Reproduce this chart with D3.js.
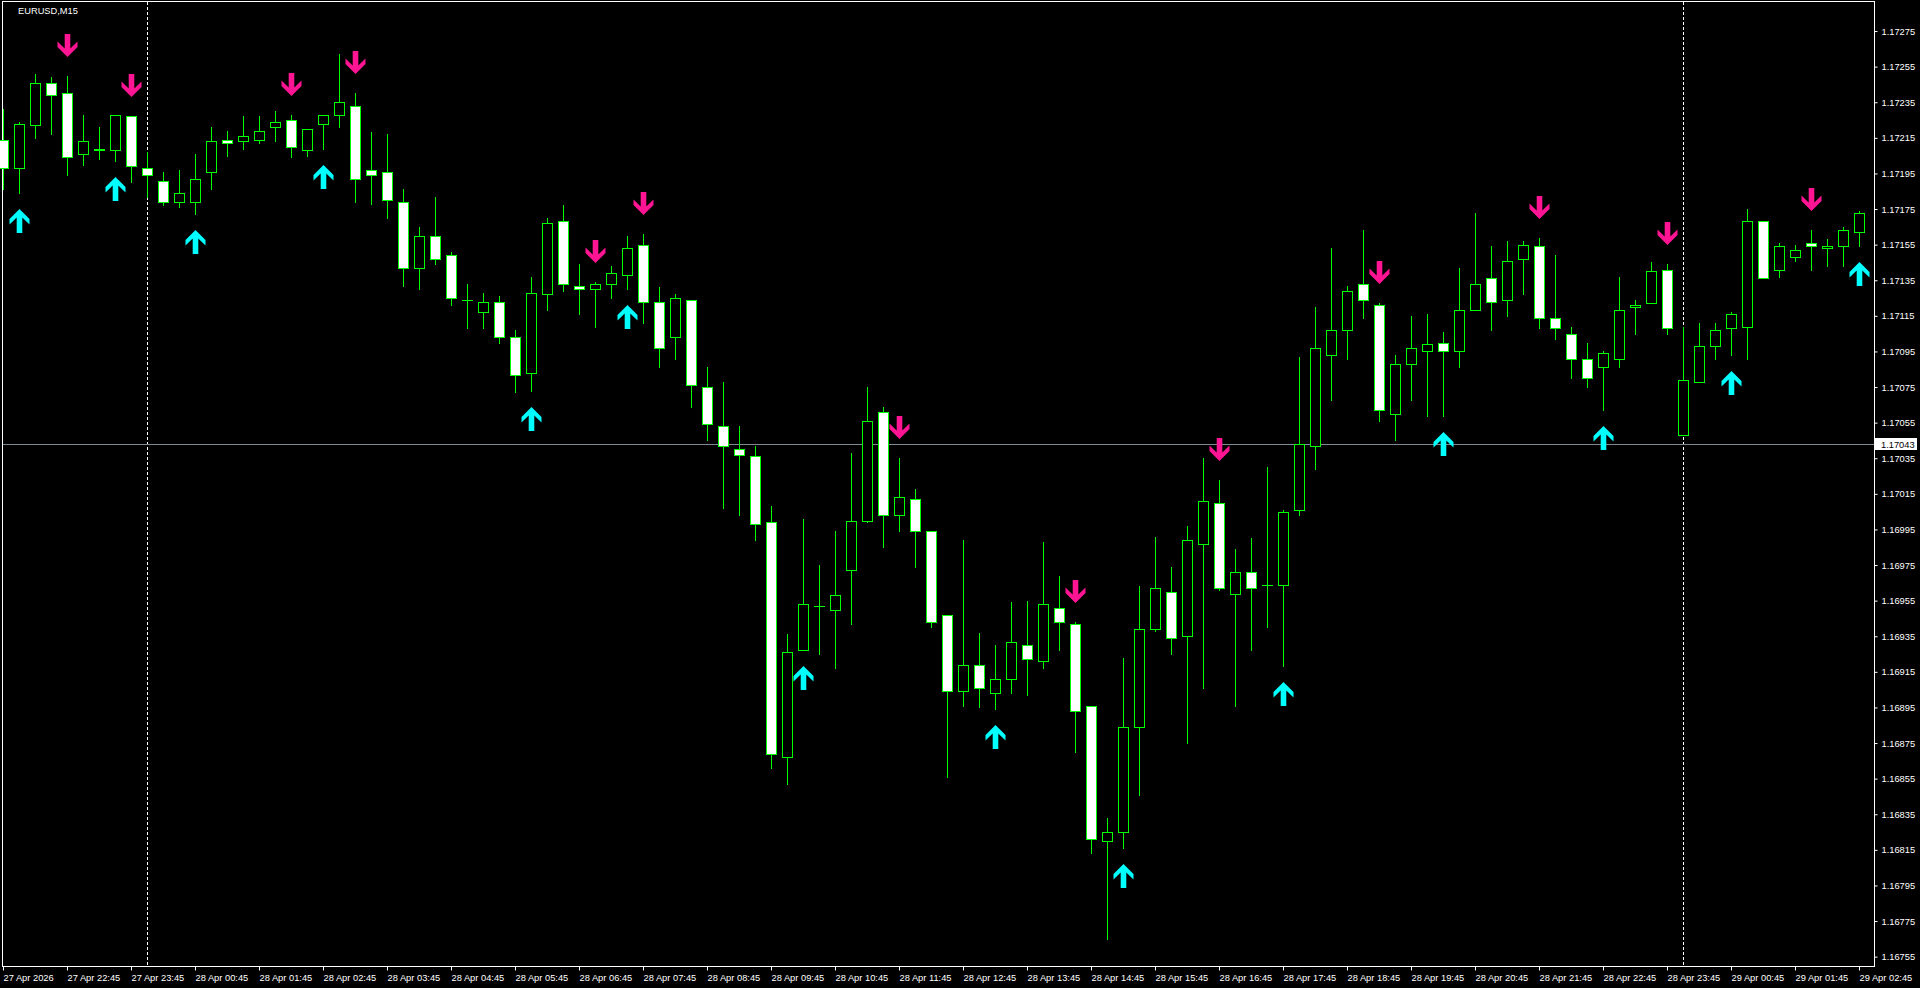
<!DOCTYPE html>
<html>
<head>
<meta charset="utf-8">
<script src="https://cdn.jsdelivr.net/npm/d3@7"></script>
<style>
  html, body { margin: 0; padding: 0; background: #000; overflow: hidden; }
  svg { display: block; }
  text { font-family: "Liberation Sans", Arial, sans-serif; font-size: 9.3px; fill: #fff; }
</style>
</head>
<body>
<svg id="chart" width="1920" height="988"></svg>
<script>
// ---------- DATA ----------
const symbolTitle = "EURUSD,M15";

const opens = [
  1.17214,1.17198,1.17222,1.17246,1.17240,1.17206,1.17209,1.17208,1.17227,1.17198,
  1.17191,1.17179,1.17179,1.17196,1.17214,1.17213,1.17214,1.17221,1.17225,1.17208,
  1.17223,1.17228,1.17233,1.17197,1.17196,1.17179,1.17142,1.17160,1.17149,1.17124,
  1.17117,1.17123,1.17103,1.17083,1.17127,1.17168,1.17132,1.17130,1.17133,1.17138,
  1.17155,1.17123,1.17103,1.17124,1.17075,1.17053,1.17040,1.17036,1.16999,1.16867,
  1.16927,1.16952,1.16950,1.16972,1.17000,1.17061,1.17003,1.17012,1.16994,1.16947,
  1.16904,1.16919,1.16903,1.16911,1.16930,1.16921,1.16951,1.16942,1.16896,1.16820,
  1.16825,1.16884,1.16939,1.16960,1.16935,1.16987,1.17010,1.16959,1.16971,1.16964,
  1.16964,1.17006,1.17042,1.17093,1.17107,1.17133,1.17121,1.17060,1.17088,1.17095,
  1.17100,1.17095,1.17118,1.17136,1.17124,1.17147,1.17154,1.17114,1.17105,1.17091,
  1.17086,1.17091,1.17120,1.17122,1.17141,1.17048,1.17078,1.17098,1.17108,1.17109,
  1.17168,1.17141,1.17148,1.17156,1.17153,1.17154,1.17162
];
const highs = [
  1.17231,1.17224,1.17251,1.17249,1.17250,1.17228,1.17221,1.17228,1.17227,1.17207,
  1.17196,1.17197,1.17206,1.17221,1.17219,1.17227,1.17227,1.17230,1.17228,1.17220,
  1.17228,1.17262,1.17240,1.17218,1.17217,1.17186,1.17165,1.17182,1.17151,1.17133,
  1.17128,1.17126,1.17107,1.17137,1.17170,1.17177,1.17144,1.17134,1.17143,1.17160,
  1.17161,1.17131,1.17127,1.17124,1.17086,1.17078,1.17053,1.17042,1.17008,1.16936,
  1.17001,1.16975,1.16994,1.17038,1.17075,1.17064,1.17035,1.17018,1.16994,1.16947,
  1.16989,1.16937,1.16930,1.16954,1.16955,1.16988,1.16969,1.16943,1.16896,1.16833,
  1.16923,1.16963,1.16991,1.16974,1.16997,1.17035,1.17023,1.16984,1.16990,1.17030,
  1.17006,1.17092,1.17120,1.17153,1.17132,1.17163,1.17122,1.17093,1.17115,1.17116,
  1.17106,1.17142,1.17173,1.17154,1.17157,1.17157,1.17159,1.17149,1.17109,1.17100,
  1.17095,1.17137,1.17124,1.17145,1.17144,1.17109,1.17111,1.17111,1.17117,1.17175,
  1.17168,1.17156,1.17155,1.17163,1.17158,1.17165,1.17174
];
const lows = [
  1.17186,1.17184,1.17215,1.17217,1.17194,1.17200,1.17203,1.17202,1.17190,1.17182,
  1.17177,1.17176,1.17172,1.17186,1.17205,1.17209,1.17212,1.17213,1.17204,1.17205,
  1.17209,1.17221,1.17179,1.17178,1.17170,1.17132,1.17130,1.17144,1.17121,1.17108,
  1.17108,1.17100,1.17072,1.17073,1.17118,1.17129,1.17116,1.17109,1.17125,1.17130,
  1.17111,1.17086,1.17091,1.17064,1.17045,1.17007,1.17003,1.16989,1.16861,1.16852,
  1.16927,1.16925,1.16917,1.16942,1.16999,1.16985,1.16994,1.16974,1.16940,1.16856,
  1.16896,1.16895,1.16894,1.16903,1.16902,1.16917,1.16927,1.16870,1.16813,1.16765,
  1.16816,1.16846,1.16938,1.16925,1.16875,1.16906,1.16961,1.16896,1.16927,1.16940,
  1.16918,1.17003,1.17029,1.17068,1.17091,1.17114,1.17056,1.17045,1.17068,1.17059,
  1.17059,1.17086,1.17118,1.17107,1.17115,1.17127,1.17108,1.17102,1.17080,1.17075,
  1.17062,1.17086,1.17105,1.17122,1.17105,1.17048,1.17078,1.17091,1.17093,1.17091,
  1.17136,1.17137,1.17146,1.17141,1.17143,1.17143,1.17154
];
const closes = [
  1.17198,1.17223,1.17246,1.17239,1.17204,1.17213,1.17208,1.17228,1.17199,1.17194,
  1.17179,1.17184,1.17192,1.17213,1.17212,1.17216,1.17219,1.17224,1.17210,1.17220,
  1.17228,1.17235,1.17192,1.17194,1.17180,1.17142,1.17160,1.17147,1.17125,1.17124,
  1.17123,1.17103,1.17082,1.17128,1.17167,1.17133,1.17130,1.17133,1.17139,1.17153,
  1.17123,1.17097,1.17125,1.17076,1.17054,1.17042,1.17037,1.16998,1.16869,1.16926,
  1.16953,1.16952,1.16958,1.17000,1.17056,1.17003,1.17013,1.16994,1.16943,1.16904,
  1.16919,1.16906,1.16911,1.16932,1.16922,1.16953,1.16943,1.16893,1.16821,1.16825,
  1.16884,1.16939,1.16962,1.16934,1.16989,1.17011,1.16962,1.16971,1.16962,1.16964,
  1.17005,1.17043,1.17097,1.17107,1.17129,1.17124,1.17062,1.17088,1.17097,1.17099,
  1.17095,1.17118,1.17133,1.17123,1.17146,1.17155,1.17114,1.17108,1.17091,1.17080,
  1.17094,1.17118,1.17121,1.17140,1.17108,1.17079,1.17098,1.17107,1.17116,1.17168,
  1.17136,1.17154,1.17152,1.17154,1.17154,1.17163,1.17173
];

// bar indices carrying indicator arrows
const sellSignals = [4, 8, 18, 22, 37, 40, 56, 67, 76, 86, 96, 104, 113];
const buySignals  = [1, 7, 12, 20, 33, 39, 50, 62, 70, 80, 90, 100, 108, 116];

// day separators (bar index of 00:00)
const daySeparators = [9, 105];

// time axis labels (every 4 bars)
const timeTickBars = [0,4,8,12,16,20,24,28,32,36,40,44,48,52,56,60,64,68,72,76,80,84,88,92,96,100,104,108,112,116];
const timeTickLabels = [
  "27 Apr 2026","27 Apr 22:45","27 Apr 23:45","28 Apr 00:45","28 Apr 01:45","28 Apr 02:45",
  "28 Apr 03:45","28 Apr 04:45","28 Apr 05:45","28 Apr 06:45","28 Apr 07:45","28 Apr 08:45",
  "28 Apr 09:45","28 Apr 10:45","28 Apr 11:45","28 Apr 12:45","28 Apr 13:45","28 Apr 14:45",
  "28 Apr 15:45","28 Apr 16:45","28 Apr 17:45","28 Apr 18:45","28 Apr 19:45","28 Apr 20:45",
  "28 Apr 21:45","28 Apr 22:45","28 Apr 23:45","29 Apr 00:45","29 Apr 01:45","29 Apr 02:45"
];

// price axis ticks
const priceTicks = [
  1.16755,1.16775,1.16795,1.16815,1.16835,1.16855,1.16875,1.16895,1.16915,1.16935,
  1.16955,1.16975,1.16995,1.17015,1.17035,1.17055,1.17075,1.17095,1.17115,1.17135,
  1.17155,1.17175,1.17195,1.17215,1.17235,1.17255,1.17275
];
const bidPrice = 1.17043;

// ---------- LAYOUT ----------
const frame = { left: 2, top: 1, right: 1874, bottom: 966 };
const GREEN = "#00ff00", PINK = "#ff1493", CYAN = "#00ffff";

const svg = d3.select("#chart");
svg.append("rect").attr("width", 1920).attr("height", 988).attr("fill", "#000");

const x = d3.scaleLinear().domain([0, 116]).range([3, 1859]);
const y = d3.scaleLinear().domain([1.16755, 1.17275]).range([956.64, 31.04]);

const bars = d3.range(opens.length).map(i => ({
  i, o: opens[i], h: highs[i], l: lows[i], c: closes[i]
}));

// frame
const fr = svg.append("g");
fr.append("line").attr("x1", frame.left + 0.5).attr("x2", frame.left + 0.5)
  .attr("y1", frame.top).attr("y2", frame.bottom + 1).attr("stroke", "#fff");
fr.append("line").attr("x1", frame.left).attr("x2", frame.right + 1)
  .attr("y1", frame.top + 0.5).attr("y2", frame.top + 0.5).attr("stroke", "#fff");

// day separators
svg.append("g").selectAll("line").data(daySeparators).join("line")
  .attr("x1", d => Math.round(x(d)) + 0.5).attr("x2", d => Math.round(x(d)) + 0.5)
  .attr("y1", frame.top + 1).attr("y2", frame.bottom)
  .attr("stroke", "#fff").attr("stroke-dasharray", "3,2");

// bid line
svg.append("line")
  .attr("x1", frame.left + 1).attr("x2", frame.right)
  .attr("y1", Math.round(y(bidPrice)) + 0.5).attr("y2", Math.round(y(bidPrice)) + 0.5)
  .attr("stroke", "#7f8a96");

// candles
const cg = svg.append("g");
cg.selectAll("line.wick").data(bars).join("line").attr("class", "wick")
  .attr("x1", d => Math.round(x(d.i)) + 0.5).attr("x2", d => Math.round(x(d.i)) + 0.5)
  .attr("y1", d => Math.round(y(d.h))).attr("y2", d => Math.round(y(d.l)) + 1)
  .attr("stroke", GREEN).attr("shape-rendering", "crispEdges");

bars.forEach(d => {
  const cx = Math.round(x(d.i));
  const top = Math.round(y(Math.max(d.o, d.c)));
  const bot = Math.round(y(Math.min(d.o, d.c)));
  if (bot - top < 1) {
    cg.append("line").attr("x1", cx - 5).attr("x2", cx + 6)
      .attr("y1", top + 0.5).attr("y2", top + 0.5)
      .attr("stroke", GREEN).attr("shape-rendering", "crispEdges");
  } else {
    cg.append("rect")
      .attr("x", cx - 4.5).attr("y", top + 0.5)
      .attr("width", 10).attr("height", bot - top)
      .attr("fill", d.c < d.o ? "#ffffff" : "#000000")
      .attr("stroke", GREEN).attr("stroke-width", 1)
      .attr("shape-rendering", "crispEdges");
  }
});

// arrows
const downArrow = "M-2.8,-23 L2.8,-23 L2.8,-8.5 L10,-15.5 L10,-10 L0,0 L-10,-10 L-10,-15.5 L-2.8,-8.5 Z";
const upArrow   = "M-2.8,24 L2.8,24 L2.8,8.5 L10,15.5 L10,10 L0,0 L-10,10 L-10,15.5 L-2.8,8.5 Z";
const ag = svg.append("g");
ag.selectAll("path.dn").data(sellSignals).join("path").attr("class", "dn")
  .attr("d", downArrow).attr("fill", PINK)
  .attr("transform", i => `translate(${Math.round(x(i)) + 0.5},${Math.round(y(highs[i])) - 19})`);
ag.selectAll("path.up").data(buySignals).join("path").attr("class", "up")
  .attr("d", upArrow).attr("fill", CYAN)
  .attr("transform", i => `translate(${Math.round(x(i)) + 0.5},${Math.round(y(lows[i])) + 16})`);

// right price axis
const yAxis = d3.axisRight(y).tickValues(priceTicks).tickFormat(d3.format(".5f"))
  .tickSizeInner(3).tickSizeOuter(0).tickPadding(4);
const yg = svg.append("g").attr("transform", `translate(${frame.right + 0.5},0)`).call(yAxis);
yg.select(".domain").attr("stroke", "#fff").attr("d", `M0,${frame.top}V${frame.bottom + 1}`);
yg.selectAll(".tick line").attr("stroke", "#fff");
yg.selectAll(".tick text").attr("fill", "#fff").style("font-family", "Liberation Sans, Arial, sans-serif")
  .style("font-size", "9.3px");

// bottom time axis
const xAxis = d3.axisBottom(x).tickValues(timeTickBars)
  .tickFormat((d, k) => timeTickLabels[k]).tickSizeInner(4).tickSizeOuter(0).tickPadding(4);
const xg = svg.append("g").attr("transform", `translate(0,${frame.bottom + 0.5})`).call(xAxis);
xg.select(".domain").attr("stroke", "#fff").attr("d", `M${frame.left},0H${frame.right + 1}`);
xg.selectAll(".tick line").attr("stroke", "#fff");
xg.selectAll(".tick text").attr("fill", "#fff").attr("text-anchor", "start").attr("x", 0)
  .style("font-family", "Liberation Sans, Arial, sans-serif").style("font-size", "9.3px");

// bid label
const by = Math.round(y(bidPrice));
svg.append("rect").attr("x", frame.right + 1).attr("y", by - 6).attr("width", 42).attr("height", 12)
  .attr("fill", "#fff");
svg.append("text").attr("x", frame.right + 7).attr("y", by + 3.5).attr("fill", "#000")
  .style("fill", "#000").text(d3.format(".5f")(bidPrice));

// title
svg.append("text").attr("x", 18).attr("y", 14).text(symbolTitle);
</script>
</body>
</html>
